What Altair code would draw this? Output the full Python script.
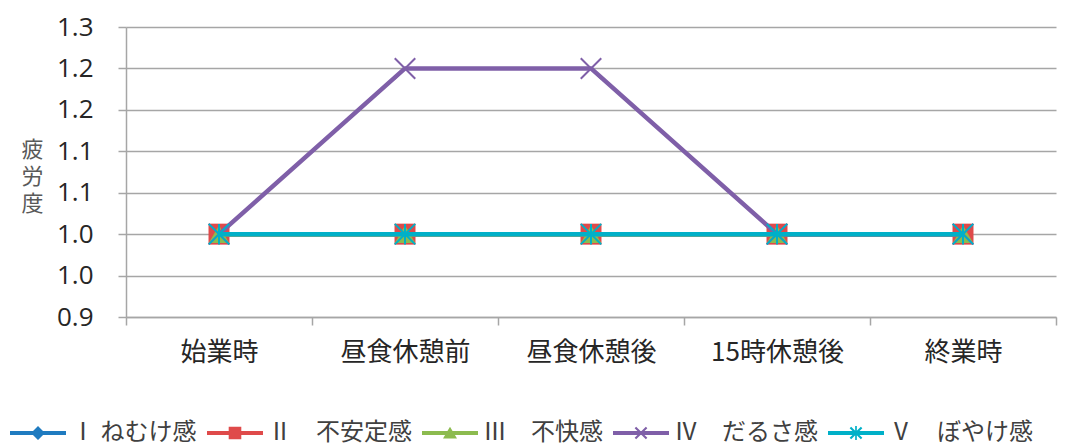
import altair as alt
import pandas as pd

categories = ["始業時", "昼食休憩前", "昼食休憩後", "15時休憩後", "終業時"]
series_names = ["Ⅰ ねむけ感", "Ⅱ　不安定感", "Ⅲ　不快感", "Ⅳ　だるさ感", "Ⅴ　ぼやけ感"]
s1 = [1.0, 1.0, 1.0, 1.0, 1.0]
s2 = [1.0, 1.0, 1.0, 1.0, 1.0]
s3 = [1.0, 1.0, 1.0, 1.0, 1.0]
s4 = [1.0, 1.2, 1.2, 1.0, 1.0]
s5 = [1.0, 1.0, 1.0, 1.0, 1.0]
y_ticks = [0.9, 0.95, 1.0, 1.05, 1.1, 1.15, 1.2, 1.25]
colors = ["#1f7bc0", "#df4a4a", "#8cbb4f", "#7f5fa8", "#00b0c8"]

series_values = [s1, s2, s3, s4, s5]
rows = []
for name, vals in zip(series_names, series_values):
    for i, (c, v) in enumerate(zip(categories, vals)):
        rows.append({"series": name, "cat": c, "idx": i, "value": v})
df = pd.DataFrame(rows)

GRID = "#a6a6a6"
JP = "Noto Sans CJK JP"

# plot markers
X_PATH = "M-1,-1L1,1M-1,1L1,-1"
AST_PATH = "M-1,-1L1,1M-1,1L1,-1M0,-1L0,1"
plot_shapes = ["diamond", "square", "triangle-up", X_PATH, AST_PATH]
plot_sizes = [260, 440, 420, 420, 420]
plot_filled = [True, True, True, False, False]

# legend symbols: line + marker
LINE = "M-4.0,-0.3H4.0V0.3H-4.0Z"
legend_shapes = [
    LINE + "M0,-1L1,0L0,1L-1,0Z",
    LINE + "M-0.9,-0.9H0.9V0.9H-0.9Z",
    LINE + "M0,-0.9L1,0.8L-1,0.8Z",
    LINE + "M-0.694,-0.906L0.906,0.694L0.694,0.906L-0.906,-0.694Z"
           "M-0.694,0.906L-0.906,0.694L0.694,-0.906L0.906,-0.694Z",
    LINE + "M-0.694,-0.906L0.906,0.694L0.694,0.906L-0.906,-0.694Z"
           "M-0.694,0.906L-0.906,0.694L0.694,-0.906L0.906,-0.694Z"
           "M-0.12,-1H0.12V1H-0.12Z",
]

x_enc = alt.X(
    "cat:N",
    sort=categories,
    scale=alt.Scale(type="band", paddingInner=0, paddingOuter=0),
    axis=alt.Axis(
        title=None, labelAngle=0, tickBand="extent", ticks=True, tickSize=8,
        tickColor=GRID, tickWidth=1.5, domainColor=GRID, domainWidth=1.5,
        labelFontSize=26, labelFont=JP, labelColor="#262626", labelPadding=14,
        grid=False,
    ),
)
y_enc = alt.Y(
    "value:Q",
    scale=alt.Scale(domain=[0.9, 1.25], nice=False, zero=False),
    axis=alt.Axis(
        values=y_ticks,
        labelExpr="format(datum.value + 0.0001, '.1f')",
        title=["疲", "労", "度"], titleAngle=0, titleX=-94, titleY=122,
        titleAlign="center", titleBaseline="middle", titleFontSize=22,
        titleColor="#595959", titleFont=JP, titleFontWeight="normal",
        titleLineHeight=27,
        grid=True, gridColor=GRID, gridWidth=1.5,
        tickSize=8, tickColor=GRID, tickWidth=1.5,
        domainColor=GRID, domainWidth=1.5,
        labelFontSize=26, labelFont="Open Sans", labelColor="#262626",
        labelPadding=25,
    ),
)

layers = []
for i, name in enumerate(series_names):
    base = alt.Chart(df).transform_filter(alt.datum.series == name)
    line = base.mark_line(color=colors[i], strokeWidth=4.5, strokeJoin="round").encode(
        x=x_enc, y=y_enc, order=alt.Order("idx:Q")
    )
    pts = base.mark_point(
        shape=plot_shapes[i], size=plot_sizes[i], filled=plot_filled[i],
        color=colors[i], strokeWidth=2, opacity=1,
    ).encode(x=x_enc, y=y_enc)
    layers += [line, pts]

leg = alt.Legend(
    orient="none", legendX=-100, legendY=394, direction="horizontal", columns=5,
    title=None, labelFontSize=24, labelFont=JP, labelColor="#404040",
    symbolSize=196, labelOffset=21, columnPadding=10, labelLimit=0,
    symbolOpacity=1, symbolStrokeWidth=0,
)
legend_layer = alt.Chart(df).mark_point(filled=True, opacity=0).encode(
    x=x_enc, y=y_enc,
    color=alt.Color("series:N", sort=series_names,
                    scale=alt.Scale(domain=series_names, range=colors), legend=leg),
    shape=alt.Shape("series:N", sort=series_names,
                    scale=alt.Scale(domain=series_names, range=legend_shapes), legend=leg),
)
layers.append(legend_layer)

chart = alt.layer(*layers).properties(
    width=930, height=290,
    autosize=alt.AutoSizeParams(type="none"),
    padding={"left": 126, "top": 27, "right": 27, "bottom": 129},
).configure_view(stroke=None)

chart.save("out.html", embed_options={"renderer": "svg", "actions": False})
